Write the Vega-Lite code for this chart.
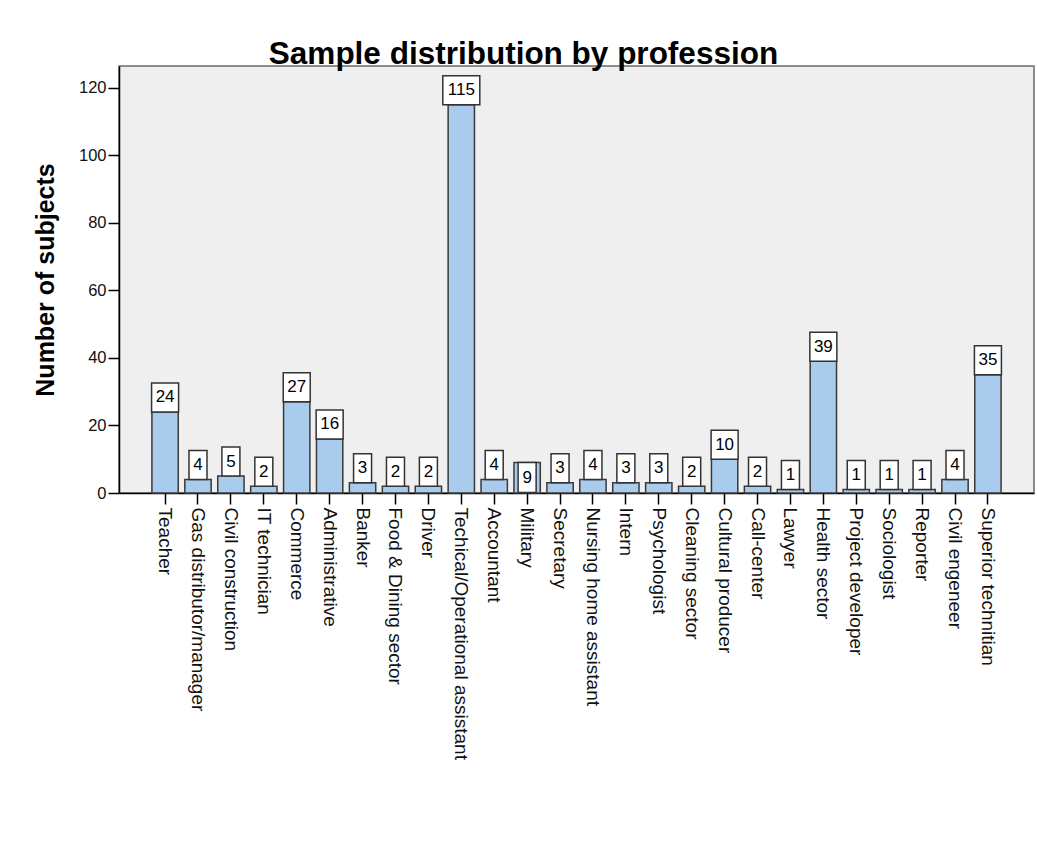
{
  "$schema": "https://vega.github.io/schema/vega-lite/v6.json",
  "width": 915,
  "height": 427,
  "autosize": {"type": "none"},
  "padding": {"left": 119, "top": 66, "right": 3, "bottom": 350},
  "background": "white",
  "config": {
    "font": "Liberation Sans",
    "view": {"fill": "#efefef", "stroke": "#6a6a6a", "strokeWidth": 1.5}
  },
  "title": {
    "text": "Sample distribution by profession",
    "fontSize": 31.5,
    "fontWeight": "bold",
    "font": "Liberation Sans",
    "color": "#000000",
    "anchor": "middle",
    "frame": "group",
    "baseline": "alphabetic",
    "offset": 3,
    "dx": -53,
    "dy": 32
  },
  "data": {
    "values": [
      {"profession": "Teacher", "n": 24},
      {"profession": "Gas distributor/manager", "n": 4},
      {"profession": "Civil construction", "n": 5},
      {"profession": "IT technician", "n": 2},
      {"profession": "Commerce", "n": 27},
      {"profession": "Administrative", "n": 16},
      {"profession": "Banker", "n": 3},
      {"profession": "Food & Dining sector", "n": 2},
      {"profession": "Driver", "n": 2},
      {"profession": "Techical/Operational assistant", "n": 115},
      {"profession": "Accountant", "n": 4},
      {"profession": "Military", "n": 9},
      {"profession": "Secretary", "n": 3},
      {"profession": "Nursing home assistant", "n": 4},
      {"profession": "Intern", "n": 3},
      {"profession": "Psychologist", "n": 3},
      {"profession": "Cleaning sector", "n": 2},
      {"profession": "Cultural producer", "n": 10},
      {"profession": "Call-center", "n": 2},
      {"profession": "Lawyer", "n": 1},
      {"profession": "Health sector", "n": 39},
      {"profession": "Project developer", "n": 1},
      {"profession": "Sociologist", "n": 1},
      {"profession": "Reporter", "n": 1},
      {"profession": "Civil engeneer", "n": 4},
      {"profession": "Superior technitian", "n": 35}
    ]
  },
  "encoding": {
    "x": {
      "field": "profession",
      "type": "nominal",
      "sort": null,
      "scale": {"paddingInner": 0.2, "paddingOuter": 1.58},
      "axis": {
        "title": null,
        "labelAngle": 90,
        "labelAlign": "left",
        "labelBaseline": "middle",
        "labelFontSize": 19,
        "labelColor": "#111111",
        "labelPadding": 3,
        "labelLimit": 500,
        "tickColor": "#000000",
        "tickSize": 11,
        "tickWidth": 1.5,
        "domainColor": "#000000",
        "domainWidth": 1.5,
        "grid": false
      }
    },
    "y": {
      "field": "n",
      "type": "quantitative",
      "scale": {"domain": [0, 126.5], "nice": false},
      "axis": {
        "title": "Number of subjects",
        "titleFontSize": 25,
        "titleFontWeight": "bold",
        "titleColor": "#000000",
        "titleAngle": -90,
        "titleAlign": "center",
        "titleBaseline": "alphabetic",
        "titleX": -66,
        "titleY": 213.5,
        "values": [0, 20, 40, 60, 80, 100, 120],
        "labelFontSize": 16.5,
        "labelColor": "#111111",
        "labelPadding": 2,
        "tickColor": "#000000",
        "tickSize": 11,
        "tickWidth": 1.5,
        "domainColor": "#000000",
        "domainWidth": 1.5,
        "grid": false
      }
    }
  },
  "layer": [
    {
      "mark": {"type": "bar", "fill": "#a9cbec", "stroke": "#3a3a3a", "strokeWidth": 1.5}
    },
    {
      "transform": [{"filter": "datum.n < 10 && datum.profession !== 'Military'"}],
      "mark": {"type": "bar", "width": 18, "yOffset": -29, "fill": "white", "stroke": "#333333", "strokeWidth": 1.5},
      "encoding": {"y2": {"field": "n"}}
    },
    {
      "transform": [{"filter": "datum.n >= 10 && datum.n < 100"}],
      "mark": {"type": "bar", "width": 27, "yOffset": -29, "fill": "white", "stroke": "#333333", "strokeWidth": 1.5},
      "encoding": {"y2": {"field": "n"}}
    },
    {
      "transform": [{"filter": "datum.n >= 100"}],
      "mark": {"type": "bar", "width": 37, "yOffset": -29, "fill": "white", "stroke": "#333333", "strokeWidth": 1.5},
      "encoding": {"y2": {"field": "n"}}
    },
    {
      "transform": [{"filter": "datum.profession === 'Military'"}],
      "mark": {"type": "bar", "width": 18, "y2Offset": 30, "fill": "white", "stroke": "#333333", "strokeWidth": 1.5},
      "encoding": {"y2": {"field": "n"}}
    },
    {
      "transform": [{"filter": "datum.profession !== 'Military'"}],
      "mark": {"type": "text", "yOffset": -14.5, "baseline": "middle", "fontSize": 17, "color": "#000000"},
      "encoding": {"text": {"field": "n", "type": "quantitative"}}
    },
    {
      "transform": [{"filter": "datum.profession === 'Military'"}],
      "mark": {"type": "text", "yOffset": 15.5, "baseline": "middle", "fontSize": 17, "color": "#000000"},
      "encoding": {"text": {"field": "n", "type": "quantitative"}}
    }
  ]
}
